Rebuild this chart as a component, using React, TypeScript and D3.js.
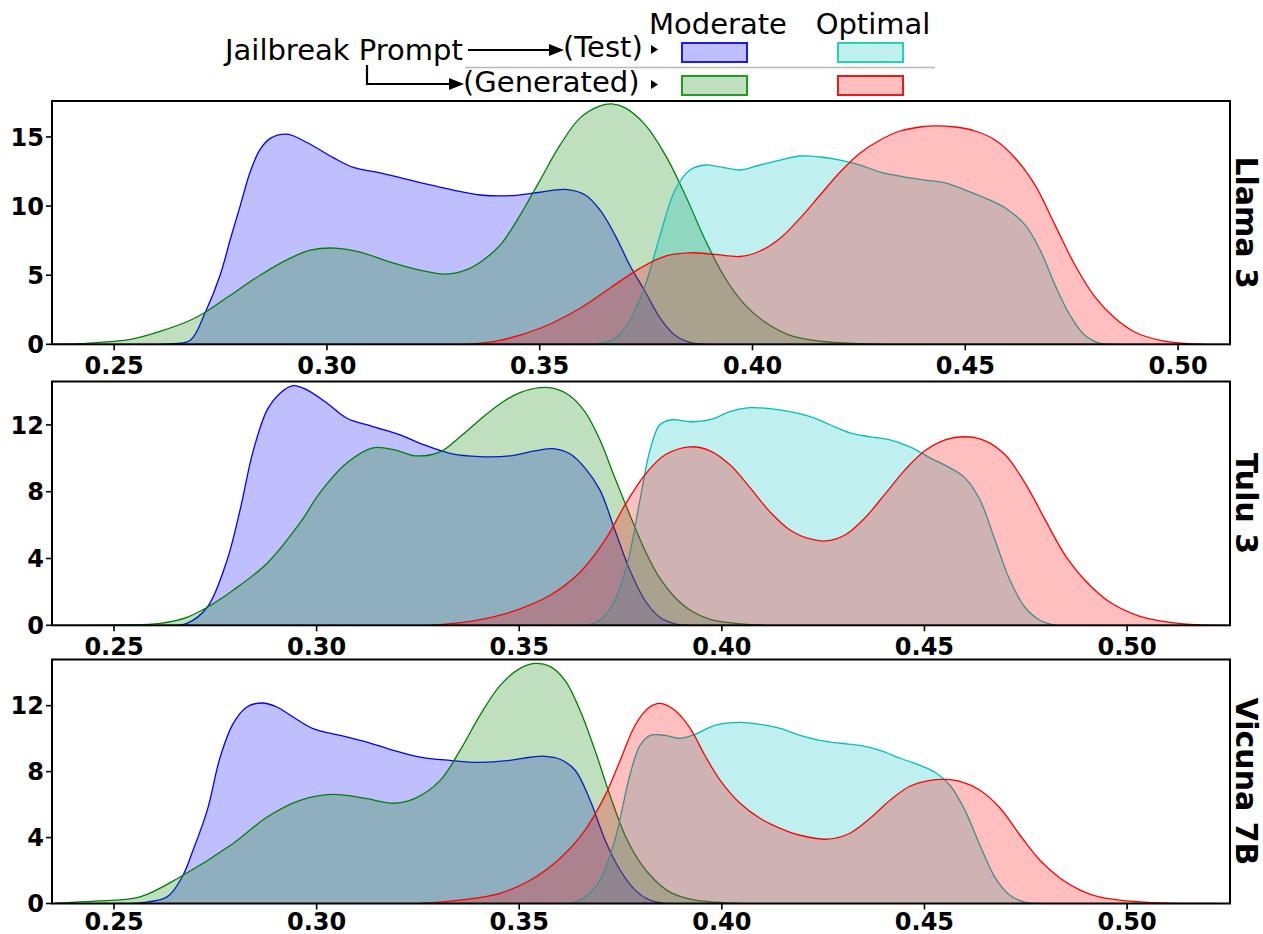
import React from "react";
import * as d3 from "d3";

type Pt = [number, number];

// ---------- data (x = score, y = density) ----------
const panelNames = ["Llama 3", "Tulu 3", "Vicuna 7B"];
const seriesNames = ["Test Moderate", "Generated Moderate", "Test Optimal", "Generated Optimal"];
const xTicks = [0.25, 0.3, 0.35, 0.4, 0.45, 0.5];
const yTicksLlama = [0, 5, 10, 15];
const yTicksTulu = [0, 4, 8, 12];
const yTicksVicuna = [0, 4, 8, 12];
const xDomainLlama: Pt = [0.2354, 0.5122];
const xDomainTulu: Pt = [0.2347, 0.5254];
const xDomainVicuna: Pt = [0.2347, 0.5254];
const yMaxes = [17.6, 14.6, 14.8];

const llamaTestModerate: Pt[] = [[0.2608,0],[0.2639,0.04],[0.2679,0.3],[0.2714,2.3],[0.2749,5.0],[0.2773,7.6],[0.2796,10.0],[0.282,12.5],[0.2843,14.1],[0.2867,14.9],[0.2906,15.2],[0.2953,14.6],[0.3015,13.5],[0.3062,12.8],[0.3125,12.4],[0.3219,11.7],[0.3289,11.2],[0.336,10.8],[0.343,10.75],[0.3501,11.0],[0.356,11.2],[0.3607,10.8],[0.3642,9.7],[0.3677,7.9],[0.3712,5.7],[0.3748,3.8],[0.3783,1.9],[0.3818,0.65],[0.3853,0.14],[0.3889,0]];
const llamaGenModerate: Pt[] = [[0.2355,0.005],[0.242,0.04],[0.2467,0.14],[0.2538,0.36],[0.2608,0.94],[0.2679,1.74],[0.2714,2.32],[0.2773,3.55],[0.2843,5.0],[0.2914,6.23],[0.2961,6.81],[0.3019,6.96],[0.3078,6.67],[0.3149,5.94],[0.3219,5.36],[0.3278,5.07],[0.3325,5.36],[0.336,5.94],[0.3407,7.17],[0.3454,9.35],[0.3501,11.88],[0.3548,14.42],[0.3595,16.38],[0.3642,17.25],[0.367,17.39],[0.3701,17.1],[0.3748,15.87],[0.3795,13.7],[0.3842,10.8],[0.3889,7.54],[0.3936,4.78],[0.3983,2.83],[0.403,1.59],[0.4088,0.65],[0.4159,0.22],[0.4253,0.04],[0.43,0]];
const llamaTestOptimal: Pt[] = [[0.363,0],[0.3677,0.43],[0.3712,1.74],[0.3748,4.28],[0.3783,7.9],[0.3818,11.16],[0.3853,12.61],[0.3889,12.97],[0.3924,12.83],[0.3971,12.61],[0.4018,12.97],[0.4065,13.33],[0.4112,13.62],[0.4159,13.55],[0.4206,13.33],[0.4253,12.97],[0.43,12.46],[0.4359,12.1],[0.4406,11.88],[0.4453,11.67],[0.45,11.16],[0.4547,10.58],[0.4594,9.86],[0.4641,8.62],[0.4676,6.81],[0.4711,4.28],[0.4746,2.1],[0.4781,0.65],[0.4817,0.07],[0.4852,0]];
const llamaGenOptimal: Pt[] = [[0.3325,0],[0.3407,0.29],[0.3501,1.16],[0.3595,2.61],[0.3665,4.06],[0.3736,5.51],[0.3795,6.38],[0.3853,6.62],[0.3912,6.5],[0.3971,6.35],[0.4018,6.75],[0.4065,7.68],[0.4112,9.13],[0.4159,10.8],[0.4206,12.46],[0.4253,13.84],[0.43,14.78],[0.4347,15.43],[0.4394,15.72],[0.4429,15.8],[0.4476,15.72],[0.4523,15.43],[0.457,14.78],[0.4617,13.48],[0.4664,11.52],[0.4711,8.62],[0.4758,5.72],[0.4805,3.41],[0.4852,1.88],[0.4899,0.87],[0.4958,0.29],[0.5016,0.07],[0.5063,0]];

const tuluTestModerate: Pt[] = [[0.2626,0],[0.268,0.12],[0.273,1.08],[0.2779,3.9],[0.2811,6.9],[0.2843,10.4],[0.2878,12.9],[0.291,13.9],[0.2942,14.35],[0.2976,14.1],[0.3026,13.3],[0.3075,12.4],[0.3139,11.9],[0.3206,11.4],[0.3255,10.9],[0.3329,10.3],[0.3403,10.1],[0.3477,10.15],[0.3539,10.45],[0.3588,10.57],[0.3625,10.27],[0.3662,9.43],[0.3699,8.11],[0.3736,5.71],[0.3773,3.3],[0.381,1.5],[0.3847,0.48],[0.3884,0.09],[0.3922,0]];
const tuluGenModerate: Pt[] = [[0.235,0],[0.2515,0.03],[0.2614,0.12],[0.268,0.48],[0.273,1.08],[0.2794,2.1],[0.2878,3.72],[0.2959,6.13],[0.3008,7.93],[0.3075,9.73],[0.3139,10.63],[0.3193,10.51],[0.3243,10.15],[0.3305,10.39],[0.3354,11.29],[0.3403,12.31],[0.3453,13.27],[0.3502,13.93],[0.3551,14.23],[0.3588,14.17],[0.3625,13.75],[0.3662,12.79],[0.3699,11.11],[0.3736,8.83],[0.3773,6.61],[0.381,4.5],[0.3847,2.82],[0.3884,1.68],[0.3922,0.9],[0.3971,0.36],[0.4033,0.12],[0.4107,0]];
const tuluTestOptimal: Pt[] = [[0.3662,0],[0.3699,0.3],[0.3736,1.5],[0.3769,3.9],[0.3798,7.51],[0.3823,10.51],[0.3847,12.01],[0.3877,12.31],[0.3922,12.19],[0.3971,12.31],[0.402,12.79],[0.407,13.03],[0.4119,12.97],[0.4168,12.79],[0.4218,12.49],[0.4267,12.01],[0.4316,11.53],[0.4366,11.29],[0.4415,11.11],[0.4464,10.69],[0.4514,10.03],[0.4563,9.43],[0.46,8.83],[0.4637,7.51],[0.4674,5.11],[0.4711,2.7],[0.4748,1.08],[0.4785,0.3],[0.4822,0]];
const tuluGenOptimal: Pt[] = [[0.328,0],[0.3379,0.24],[0.3477,0.78],[0.3576,1.8],[0.365,3.18],[0.3712,5.11],[0.3761,7.21],[0.381,9.01],[0.386,10.21],[0.3922,10.69],[0.3971,10.45],[0.402,9.61],[0.407,8.23],[0.4119,6.79],[0.4168,5.71],[0.4218,5.17],[0.4255,5.05],[0.4304,5.41],[0.4353,6.43],[0.4403,7.87],[0.4452,9.31],[0.4501,10.45],[0.4551,11.11],[0.46,11.29],[0.465,11.05],[0.4699,10.21],[0.4748,8.53],[0.4798,6.31],[0.4847,4.2],[0.4896,2.7],[0.4958,1.38],[0.5032,0.54],[0.5106,0.18],[0.518,0.03],[0.5242,0]];

const vicunaTestModerate: Pt[] = [[0.2515,0],[0.2564,0.04],[0.2631,0.4],[0.2668,1.61],[0.2695,3.23],[0.273,5.65],[0.2762,8.88],[0.2794,10.91],[0.2828,11.92],[0.2865,12.16],[0.2902,11.92],[0.2942,11.31],[0.2991,10.61],[0.3058,10.2],[0.3124,9.79],[0.3189,9.29],[0.3255,8.88],[0.3329,8.68],[0.3403,8.56],[0.3477,8.68],[0.3527,8.87],[0.3564,8.93],[0.3601,8.75],[0.3638,8.08],[0.3675,6.26],[0.3712,3.84],[0.3749,2.02],[0.3786,0.81],[0.3823,0.2],[0.386,0]];
const vicunaGenModerate: Pt[] = [[0.2355,0.02],[0.2367,0.04],[0.2465,0.16],[0.2564,0.4],[0.2663,1.61],[0.2794,3.64],[0.2878,5.25],[0.2959,6.26],[0.304,6.62],[0.3124,6.36],[0.3189,6.08],[0.3243,6.38],[0.3305,7.47],[0.3354,9.29],[0.3403,11.41],[0.3453,13.23],[0.3502,14.26],[0.3539,14.56],[0.3576,14.38],[0.3613,13.53],[0.365,11.72],[0.3687,9.29],[0.3724,6.56],[0.3761,4.14],[0.3798,2.5],[0.3835,1.41],[0.3872,0.69],[0.3922,0.26],[0.3983,0.08],[0.4045,0]];
const vicunaTestOptimal: Pt[] = [[0.3625,0],[0.3662,0.38],[0.3699,1.41],[0.3736,3.84],[0.3773,7.78],[0.3798,9.59],[0.3823,10.2],[0.386,10.2],[0.3897,10.02],[0.3934,10.26],[0.3983,10.81],[0.4045,10.99],[0.4094,10.87],[0.4144,10.62],[0.4193,10.2],[0.4242,9.9],[0.4292,9.72],[0.4341,9.59],[0.439,9.29],[0.444,8.81],[0.4489,8.38],[0.4526,7.96],[0.4563,7.17],[0.46,5.65],[0.4637,3.53],[0.4674,1.59],[0.4711,0.5],[0.4748,0.08],[0.4785,0]];
const vicunaGenOptimal: Pt[] = [[0.3255,0],[0.3354,0.2],[0.3453,0.62],[0.3527,1.41],[0.3601,2.75],[0.3662,4.44],[0.3712,6.56],[0.3749,8.68],[0.3786,10.81],[0.3818,11.84],[0.3847,12.14],[0.3884,11.72],[0.3922,10.62],[0.3958,8.99],[0.3996,7.47],[0.4045,6.08],[0.4094,5.17],[0.4144,4.56],[0.4193,4.14],[0.4262,3.9],[0.4316,4.26],[0.4366,5.17],[0.4415,6.26],[0.4464,7.11],[0.4514,7.47],[0.4551,7.53],[0.4588,7.41],[0.4637,6.87],[0.4687,5.78],[0.4736,4.14],[0.4785,2.62],[0.4835,1.53],[0.4884,0.81],[0.4933,0.38],[0.5007,0.14],[0.5081,0.03],[0.5217,0]];

// ---------- styling ----------
const seriesColors = ["#0000ff", "#008000", "#00bfbf", "#ff0000"];
const legendEdges = ["#1a1aee", "#1aa01a", "#22d4b4", "#ee1a1a"];
const FONT = "'DejaVu Sans', sans-serif";

const L = 52, R = 1230;
const panelTops = [101, 381.5, 659.5];
const panelBottoms = [344.3, 625.3, 903.5];
const labelBaselines = [374.3, 655.3, 929.5];

const panels = [
  { name: panelNames[0], xDomain: xDomainLlama, yTicks: yTicksLlama, series: [llamaTestModerate, llamaGenModerate, llamaTestOptimal, llamaGenOptimal] },
  { name: panelNames[1], xDomain: xDomainTulu, yTicks: yTicksTulu, series: [tuluTestModerate, tuluGenModerate, tuluTestOptimal, tuluGenOptimal] },
  { name: panelNames[2], xDomain: xDomainVicuna, yTicks: yTicksVicuna, series: [vicunaTestModerate, vicunaGenModerate, vicunaTestOptimal, vicunaGenOptimal] },
];

function Panel({ i }: { i: number }) {
  const p = panels[i];
  const top = panelTops[i];
  const bottom = panelBottoms[i];
  const x = d3.scaleLinear().domain(p.xDomain).range([L, R]);
  const y = d3.scaleLinear().domain([0, yMaxes[i]]).range([bottom, top]);
  const curve = d3.curveCatmullRom.alpha(0.5);
  const area = d3.area<Pt>().x((d) => x(d[0])).y0(y(0)).y1((d) => y(d[1])).curve(curve);
  const line = d3.line<Pt>().x((d) => x(d[0])).y((d) => y(d[1])).curve(curve);
  const clipId = `clip${i}`;
  return (
    <g>
      <defs>
        <clipPath id={clipId}>
          <rect x={L} y={top} width={R - L} height={bottom - top} />
        </clipPath>
      </defs>
      <g clipPath={`url(#${clipId})`}>
        {p.series.map((s, k) => (
          <g key={seriesNames[k]}>
            <path d={area(s) || ""} fill={seriesColors[k]} fillOpacity={0.25} stroke="none" />
            <path d={line(s) || ""} fill="none" stroke={seriesColors[k]} strokeWidth={1.3} />
          </g>
        ))}
      </g>
      <rect x={L} y={top} width={R - L} height={bottom - top} fill="none" stroke="#000" strokeWidth={2} />
      {p.yTicks.map((t) => (
        <g key={`y${t}`}>
          <line x1={L - 6} x2={L} y1={y(t)} y2={y(t)} stroke="#000" strokeWidth={1.6} />
          <text x={L - 8} y={y(t)} dy="0.36em" textAnchor="end" fontFamily={FONT} fontWeight="bold" fontSize={24}>
            {t}
          </text>
        </g>
      ))}
      {xTicks.map((t) => (
        <g key={`x${t}`}>
          <line x1={x(t)} x2={x(t)} y1={bottom} y2={bottom + 6} stroke="#000" strokeWidth={1.6} />
          <text x={x(t)} y={labelBaselines[i]} textAnchor="middle" fontFamily={FONT} fontWeight="bold" fontSize={24}>
            {t.toFixed(2)}
          </text>
        </g>
      ))}
      <text
        transform={`translate(1247,${(top + bottom) / 2}) rotate(90)`}
        textAnchor="middle"
        dy="0.36em"
        fontFamily={FONT}
        fontWeight="bold"
        fontSize={30}
      >
        {p.name}
      </text>
    </g>
  );
}

function Legend() {
  const fs = 29;
  return (
    <g fontFamily={FONT} fontSize={fs}>
      <text x={718} y={34} textAnchor="middle">Moderate</text>
      <text x={873} y={34} textAnchor="middle">Optimal</text>
      <text x={225} y={60}>Jailbreak Prompt</text>
      <line x1={468} y1={50} x2={552} y2={50} stroke="#000" strokeWidth={2.2} />
      <polygon points="549,44 564,50 549,56" fill="#000" />
      <text x={563} y={57}>(Test)</text>
      <polygon points="651,45 658,49.5 651,54" fill="#000" />
      <line x1={465} y1={67.5} x2={935} y2={67.5} stroke="#b8b8b8" strokeWidth={1.5} />
      <polyline points="367,65 367,84 452,84" fill="none" stroke="#000" strokeWidth={2.2} />
      <polygon points="449,78 464,84 449,90" fill="#000" />
      <text x={463} y={92}>(Generated)</text>
      <polygon points="651,80 658,84.5 651,89" fill="#000" />
      {[
        { k: 0, x: 682, y: 43 },
        { k: 2, x: 838, y: 43 },
        { k: 1, x: 682, y: 76 },
        { k: 3, x: 838, y: 76 },
      ].map((r) => (
        <rect
          key={seriesNames[r.k]}
          x={r.x}
          y={r.y}
          width={65}
          height={19}
          fill={seriesColors[r.k]}
          fillOpacity={0.25}
          stroke={legendEdges[r.k]}
          strokeWidth={2}
        />
      ))}
    </g>
  );
}

export default function App() {
  return (
    <svg
      width={1263}
      height={934}
      viewBox="0 0 1263 934"
      style={{ position: "absolute", left: 0, top: 0, background: "#fff" }}
    >
      <rect x={0} y={0} width={1263} height={934} fill="#fff" />
      <Legend />
      {panels.map((_, i) => (
        <Panel key={panelNames[i]} i={i} />
      ))}
    </svg>
  );
}
